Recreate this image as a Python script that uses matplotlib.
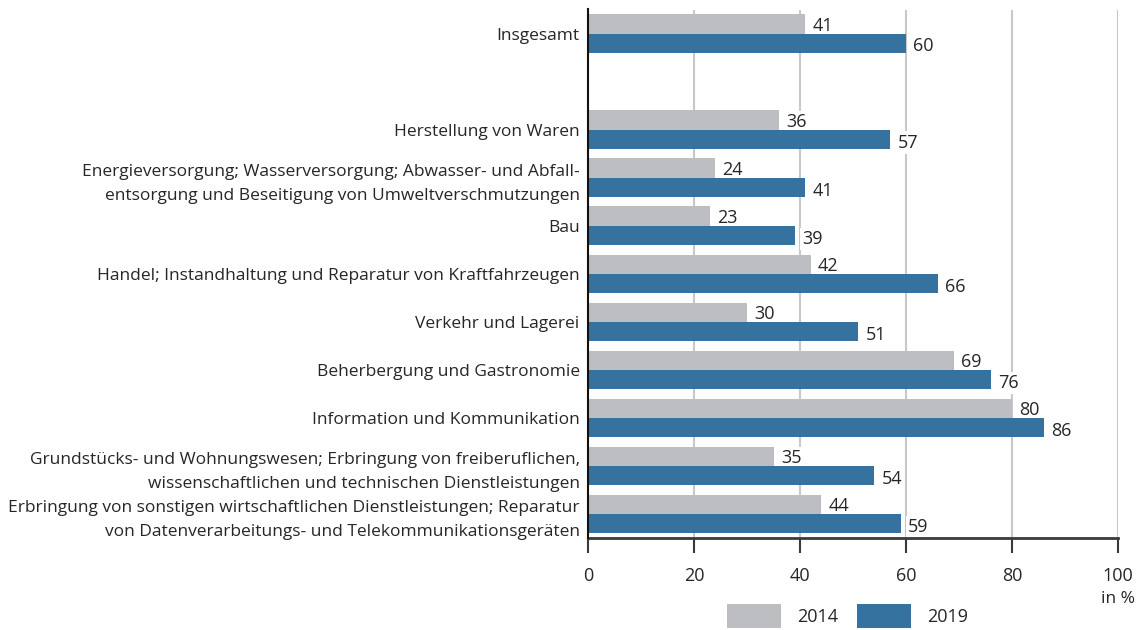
import matplotlib
matplotlib.use("Agg")
import matplotlib.pyplot as plt
from matplotlib.patches import Patch

categories = [
    "Insgesamt",
    "Herstellung von Waren",
    "Energieversorgung; Wasserversorgung; Abwasser- und Abfall-\nentsorgung und Beseitigung von Umweltverschmutzungen",
    "Bau",
    "Handel; Instandhaltung und Reparatur von Kraftfahrzeugen",
    "Verkehr und Lagerei",
    "Beherbergung und Gastronomie",
    "Information und Kommunikation",
    "Grundstücks- und Wohnungswesen; Erbringung von freiberuflichen,\nwissenschaftlichen und technischen Dienstleistungen",
    "Erbringung von sonstigen wirtschaftlichen Dienstleistungen; Reparatur\nvon Datenverarbeitungs- und Telekommunikationsgeräten",
]
values_2014 = [41, 36, 24, 23, 42, 30, 69, 80, 35, 44]
values_2019 = [60, 57, 41, 39, 66, 51, 76, 86, 54, 59]
series_labels = ["2014", "2019"]
x_ticks = [0, 20, 40, 60, 80, 100]
x_unit = "in %"

positions = [0] + list(range(2, 11))

GRAY = "#bdbec2"
BLUE = "#35729f"
TEXT = "#262626"
FONT = "Open Sans"
FS = 12.5
FSN = 13

plt.rcParams["font.family"] = [FONT, "DejaVu Sans"]

fig = plt.figure(figsize=(11.42, 6.30), dpi=100)
ax = fig.add_axes([588 / 1142, 1 - 538 / 630, 530 / 1142, (538 - 9.5) / 630])

h = 0.4
pos_a = [p - h / 2 for p in positions]
pos_b = [p + h / 2 for p in positions]
ax.barh(pos_a, values_2014, height=h, color=GRAY, zorder=2, label=series_labels[0])
ax.barh(pos_b, values_2019, height=h, color=BLUE, zorder=2, label=series_labels[1])

for y, v in zip(pos_a, values_2014):
    ax.text(v + 1.4, y + 0.04, str(v), va="center", ha="left", fontsize=FSN, color=TEXT,
            zorder=1.5, bbox=dict(facecolor="white", edgecolor="none", pad=1.5))
for y, v in zip(pos_b, values_2019):
    ax.text(v + 1.4, y + 0.07, str(v), va="center", ha="left", fontsize=FSN, color=TEXT,
            zorder=1.5, bbox=dict(facecolor="white", edgecolor="none", pad=1.5))

ax.set_xlim(0, 100)
ax.set_ylim(10.5, -0.5)
ax.set_yticks(positions)
ax.set_yticklabels(categories, fontsize=FS, color=TEXT, linespacing=1.7)
ax.tick_params(axis="y", length=0, pad=6)
ax.set_xticks(x_ticks)
ax.set_xticklabels([str(t) for t in x_ticks], fontsize=FSN, color=TEXT)
ax.tick_params(axis="x", length=11, width=1.5, color="#3a3a3a", pad=10, direction="out")

for t in x_ticks[1:]:
    ax.axvline(t, color="#c8c8c8", lw=1.5, zorder=1)

for s in ["top", "right"]:
    ax.spines[s].set_visible(False)
ax.spines["left"].set_color("#111111")
ax.spines["left"].set_linewidth(1.5)
ax.spines["bottom"].set_color("#3a3a3a")
ax.spines["bottom"].set_linewidth(2)
ax.spines["left"].set_zorder(4)

fig.text(1135 / 1142, 1 - 599 / 630, x_unit, ha="right", va="center", fontsize=FS, color=TEXT)

handles = [Patch(facecolor=GRAY, edgecolor="none"), Patch(facecolor=BLUE, edgecolor="none")]
fig.legend(handles, series_labels, loc="lower left", bbox_to_anchor=(727 / 1142, 2 / 630),
           ncol=2, frameon=False, fontsize=FSN, handlelength=3.0, handleheight=1.65,
           handletextpad=0.9, columnspacing=1.0, borderpad=0, borderaxespad=0,
           labelcolor=TEXT)

fig.savefig("out.png", dpi=100)
